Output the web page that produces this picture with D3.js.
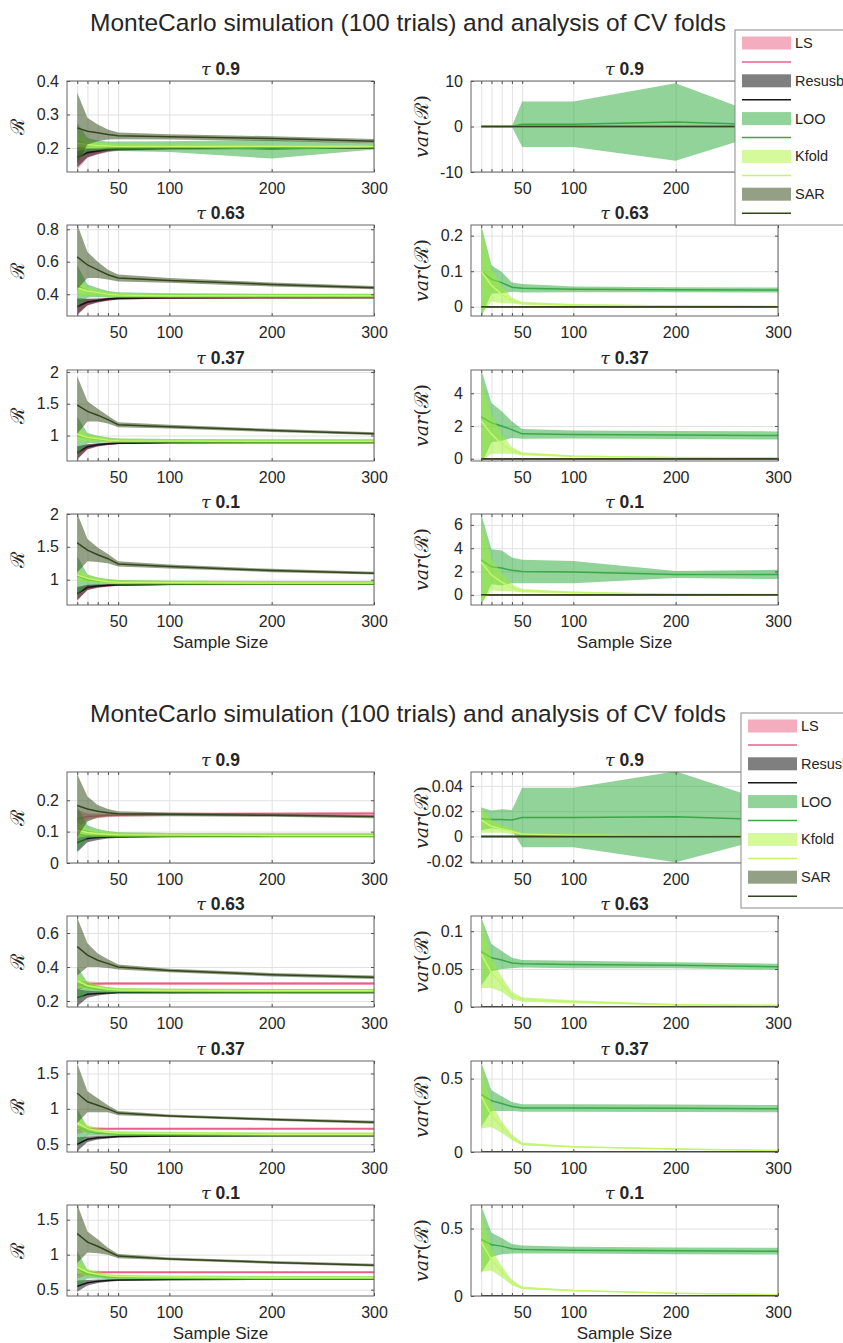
<!DOCTYPE html>
<html>
<head>
<meta charset="utf-8">
<script src="https://cdn.jsdelivr.net/npm/d3@7"></script>
<style>
  body { margin: 0; background: #fff; }
  svg text { fill: #262626; }
</style>
</head>
<body>
<svg id="chart" width="843" height="1343" font-family="'Liberation Sans', Arial, Helvetica, sans-serif"></svg>
<script>
// ---- data ----
const sampleSizes = [10, 20, 30, 40, 50, 100, 200, 300];
const xTickLabels = [50, 100, 200, 300];
const seriesNames = ["LS", "Resusbstitution", "LOO", "Kfold", "SAR"];
const tauLabels = ["0.9", "0.63", "0.37", "0.1"];
const figTitle = "MonteCarlo simulation (100 trials) and analysis of CV folds";

// series order in every table: LS, Resub, LOO, Kfold, SAR

// figure 1, left column (R)
const f1_R09_ticks = [0.2, 0.3, 0.4];
const f1_R09_mean = [
  [0.170, 0.185, 0.190, 0.194, 0.196, 0.198, 0.199, 0.200],
  [0.172, 0.186, 0.191, 0.195, 0.197, 0.199, 0.200, 0.200],
  [0.220, 0.210, 0.207, 0.206, 0.205, 0.204, 0.196, 0.204],
  [0.215, 0.210, 0.207, 0.206, 0.205, 0.204, 0.204, 0.204],
  [0.260, 0.250, 0.245, 0.240, 0.236, 0.233, 0.228, 0.220]];
const f1_R09_sd = [
  [0.035, 0.015, 0.010, 0.007, 0.005, 0.004, 0.003, 0.003],
  [0.030, 0.014, 0.009, 0.006, 0.005, 0.003, 0.003, 0.003],
  [0.055, 0.020, 0.015, 0.013, 0.014, 0.016, 0.028, 0.009],
  [0.025, 0.013, 0.010, 0.008, 0.007, 0.006, 0.005, 0.005],
  [0.105, 0.040, 0.025, 0.015, 0.010, 0.008, 0.007, 0.007]];

const f1_R063_ticks = [0.4, 0.6, 0.8];
const f1_R063_mean = [
  [0.320, 0.350, 0.360, 0.368, 0.373, 0.377, 0.379, 0.380],
  [0.325, 0.352, 0.362, 0.370, 0.375, 0.378, 0.380, 0.380],
  [0.450, 0.420, 0.410, 0.400, 0.395, 0.392, 0.390, 0.390],
  [0.440, 0.420, 0.410, 0.400, 0.395, 0.391, 0.390, 0.390],
  [0.630, 0.580, 0.550, 0.520, 0.500, 0.485, 0.460, 0.440]];
const f1_R063_sd = [
  [0.050, 0.020, 0.012, 0.009, 0.007, 0.005, 0.004, 0.004],
  [0.050, 0.020, 0.012, 0.009, 0.007, 0.005, 0.004, 0.004],
  [0.130, 0.040, 0.028, 0.020, 0.017, 0.014, 0.013, 0.013],
  [0.050, 0.025, 0.018, 0.015, 0.014, 0.013, 0.012, 0.012],
  [0.200, 0.080, 0.050, 0.030, 0.022, 0.015, 0.012, 0.010]];

const f1_R037_ticks = [1, 1.5, 2];
const f1_R037_mean = [
  [0.720, 0.820, 0.850, 0.868, 0.878, 0.888, 0.890, 0.890],
  [0.730, 0.825, 0.855, 0.870, 0.880, 0.890, 0.892, 0.892],
  [1.000, 0.960, 0.940, 0.930, 0.920, 0.915, 0.910, 0.910],
  [1.020, 0.970, 0.950, 0.930, 0.920, 0.915, 0.910, 0.910],
  [1.480, 1.380, 1.320, 1.250, 1.170, 1.140, 1.080, 1.030]];
const f1_R037_sd = [
  [0.100, 0.040, 0.025, 0.018, 0.014, 0.010, 0.008, 0.008],
  [0.100, 0.040, 0.025, 0.018, 0.014, 0.010, 0.008, 0.008],
  [0.300, 0.080, 0.055, 0.040, 0.035, 0.030, 0.030, 0.030],
  [0.100, 0.050, 0.038, 0.032, 0.030, 0.028, 0.028, 0.028],
  [0.450, 0.160, 0.100, 0.060, 0.040, 0.030, 0.025, 0.020]];

const f1_R01_ticks = [1, 1.5, 2];
const f1_R01_mean = [
  [0.780, 0.880, 0.900, 0.910, 0.920, 0.928, 0.930, 0.930],
  [0.790, 0.885, 0.905, 0.915, 0.922, 0.930, 0.932, 0.932],
  [1.060, 1.000, 0.980, 0.970, 0.960, 0.955, 0.950, 0.950],
  [1.070, 1.020, 0.990, 0.970, 0.960, 0.955, 0.950, 0.950],
  [1.560, 1.450, 1.380, 1.320, 1.240, 1.200, 1.140, 1.100]];
const f1_R01_sd = [
  [0.100, 0.040, 0.025, 0.018, 0.014, 0.010, 0.008, 0.008],
  [0.100, 0.040, 0.025, 0.018, 0.014, 0.010, 0.008, 0.008],
  [0.300, 0.080, 0.055, 0.040, 0.035, 0.030, 0.030, 0.030],
  [0.100, 0.050, 0.038, 0.032, 0.030, 0.028, 0.028, 0.028],
  [0.450, 0.170, 0.110, 0.070, 0.040, 0.030, 0.025, 0.020]];

// figure 1, right column (var R)
const f1_V09_ticks = [-10, 0, 10];
const f1_V09_mean = [
  [0, 0, 0, 0, 0, 0, 0, 0],
  [0, 0, 0, 0, 0, 0, 0, 0],
  [0.02, 0.02, 0.02, 0.02, 0.5, 0.5, 1.0, 0.3],
  [0.01, 0.01, 0.01, 0.01, 0.01, 0.01, 0.01, 0.01],
  [0, 0, 0, 0, 0, 0, 0, 0]];
const f1_V09_sd = [
  [0, 0, 0, 0, 0, 0, 0, 0],
  [0, 0, 0, 0, 0, 0, 0, 0],
  [0.05, 0.05, 0.05, 0.05, 5.0, 5.0, 8.5, 0.8],
  [0.02, 0.02, 0.02, 0.02, 0.02, 0.02, 0.02, 0.02],
  [0, 0, 0, 0, 0, 0, 0, 0]];

const f1_V063_ticks = [0, 0.1, 0.2];
const f1_V063_mean = [
  [0, 0, 0, 0, 0, 0, 0, 0],
  [0, 0, 0, 0, 0, 0, 0, 0],
  [0.100, 0.077, 0.068, 0.055, 0.052, 0.049, 0.048, 0.047],
  [0.100, 0.060, 0.035, 0.017, 0.010, 0.005, 0.002, 0.001],
  [0, 0, 0, 0, 0, 0, 0, 0]];
const f1_V063_sd = [
  [0, 0, 0, 0, 0, 0, 0, 0],
  [0, 0, 0, 0, 0, 0, 0, 0],
  [0.130, 0.040, 0.030, 0.013, 0.012, 0.008, 0.007, 0.007],
  [0.120, 0.045, 0.025, 0.008, 0.004, 0.003, 0.002, 0.001],
  [0, 0, 0, 0, 0, 0, 0, 0]];

const f1_V037_ticks = [0, 2, 4];
const f1_V037_mean = [
  [0, 0, 0, 0, 0, 0, 0, 0],
  [0, 0, 0, 0, 0, 0, 0, 0],
  [2.55, 2.20, 2.00, 1.77, 1.52, 1.48, 1.45, 1.42],
  [2.30, 1.50, 0.90, 0.50, 0.30, 0.15, 0.08, 0.05],
  [0, 0, 0, 0, 0, 0, 0, 0]];
const f1_V037_sd = [
  [0, 0, 0, 0, 0, 0, 0, 0],
  [0, 0, 0, 0, 0, 0, 0, 0],
  [2.90, 1.20, 0.90, 0.50, 0.30, 0.25, 0.25, 0.25],
  [2.40, 1.20, 0.60, 0.20, 0.10, 0.05, 0.03, 0.03],
  [0, 0, 0, 0, 0, 0, 0, 0]];

const f1_V01_ticks = [0, 2, 4, 6];
const f1_V01_mean = [
  [0, 0, 0, 0, 0, 0, 0, 0],
  [0, 0, 0, 0, 0, 0, 0, 0],
  [3.00, 2.40, 2.30, 2.10, 2.00, 1.95, 1.75, 1.75],
  [2.80, 1.70, 1.10, 0.60, 0.35, 0.20, 0.05, 0.03],
  [0, 0, 0, 0, 0, 0, 0, 0]];
const f1_V01_sd = [
  [0, 0, 0, 0, 0, 0, 0, 0],
  [0, 0, 0, 0, 0, 0, 0, 0],
  [3.90, 1.50, 1.50, 1.10, 1.00, 0.95, 0.30, 0.40],
  [3.50, 1.30, 0.80, 0.30, 0.15, 0.08, 0.03, 0.02],
  [0, 0, 0, 0, 0, 0, 0, 0]];

// figure 2, left column (R)
const f2_R09_ticks = [0, 0.1, 0.2];
const f2_R09_mean = [
  [0.140, 0.148, 0.150, 0.152, 0.153, 0.155, 0.157, 0.158],
  [0.065, 0.078, 0.081, 0.083, 0.084, 0.085, 0.086, 0.086],
  [0.110, 0.100, 0.095, 0.092, 0.090, 0.089, 0.088, 0.088],
  [0.105, 0.097, 0.094, 0.092, 0.090, 0.089, 0.088, 0.088],
  [0.183, 0.172, 0.165, 0.160, 0.157, 0.155, 0.152, 0.148]];
const f2_R09_sd = [
  [0.030, 0.010, 0.007, 0.006, 0.006, 0.005, 0.005, 0.005],
  [0.030, 0.012, 0.008, 0.005, 0.004, 0.003, 0.003, 0.003],
  [0.070, 0.020, 0.013, 0.010, 0.008, 0.007, 0.007, 0.007],
  [0.025, 0.012, 0.010, 0.008, 0.007, 0.007, 0.007, 0.007],
  [0.100, 0.040, 0.020, 0.012, 0.008, 0.006, 0.005, 0.005]];

const f2_R063_ticks = [0.2, 0.4, 0.6];
const f2_R063_mean = [
  [0.290, 0.300, 0.302, 0.303, 0.303, 0.303, 0.303, 0.303],
  [0.220, 0.240, 0.245, 0.248, 0.250, 0.250, 0.250, 0.250],
  [0.300, 0.280, 0.270, 0.265, 0.262, 0.260, 0.260, 0.260],
  [0.320, 0.290, 0.280, 0.270, 0.265, 0.262, 0.260, 0.260],
  [0.520, 0.470, 0.440, 0.420, 0.400, 0.380, 0.355, 0.340]];
const f2_R063_sd = [
  [0.030, 0.015, 0.010, 0.009, 0.009, 0.009, 0.009, 0.009],
  [0.050, 0.020, 0.012, 0.008, 0.006, 0.005, 0.004, 0.004],
  [0.100, 0.030, 0.020, 0.016, 0.013, 0.012, 0.011, 0.011],
  [0.040, 0.020, 0.016, 0.013, 0.012, 0.011, 0.011, 0.011],
  [0.170, 0.070, 0.040, 0.025, 0.015, 0.010, 0.010, 0.010]];

const f2_R037_ticks = [0.5, 1, 1.5];
const f2_R037_mean = [
  [0.700, 0.720, 0.720, 0.720, 0.720, 0.720, 0.720, 0.720],
  [0.500, 0.570, 0.590, 0.600, 0.610, 0.615, 0.620, 0.620],
  [0.750, 0.680, 0.660, 0.650, 0.645, 0.640, 0.635, 0.635],
  [0.800, 0.720, 0.690, 0.670, 0.660, 0.650, 0.640, 0.640],
  [1.220, 1.100, 1.050, 1.000, 0.940, 0.900, 0.850, 0.810]];
const f2_R037_sd = [
  [0.060, 0.030, 0.020, 0.018, 0.018, 0.018, 0.018, 0.018],
  [0.100, 0.040, 0.025, 0.018, 0.014, 0.010, 0.010, 0.010],
  [0.250, 0.060, 0.040, 0.030, 0.028, 0.026, 0.026, 0.026],
  [0.100, 0.050, 0.035, 0.028, 0.026, 0.026, 0.026, 0.026],
  [0.420, 0.150, 0.100, 0.050, 0.030, 0.020, 0.020, 0.020]];

const f2_R01_ticks = [0.5, 1, 1.5];
const f2_R01_mean = [
  [0.720, 0.740, 0.750, 0.750, 0.750, 0.750, 0.750, 0.750],
  [0.550, 0.600, 0.620, 0.630, 0.640, 0.645, 0.650, 0.650],
  [0.800, 0.720, 0.700, 0.680, 0.675, 0.670, 0.665, 0.665],
  [0.820, 0.750, 0.720, 0.700, 0.690, 0.680, 0.670, 0.670],
  [1.300, 1.180, 1.120, 1.050, 0.980, 0.940, 0.890, 0.850]];
const f2_R01_sd = [
  [0.060, 0.030, 0.020, 0.018, 0.018, 0.018, 0.018, 0.018],
  [0.080, 0.040, 0.025, 0.018, 0.014, 0.010, 0.010, 0.010],
  [0.250, 0.060, 0.040, 0.030, 0.028, 0.026, 0.026, 0.026],
  [0.100, 0.050, 0.035, 0.028, 0.026, 0.026, 0.026, 0.026],
  [0.420, 0.150, 0.100, 0.050, 0.030, 0.020, 0.020, 0.020]];

// figure 2, right column (var R)
const f2_V09_ticks = [-0.02, 0, 0.02, 0.04];
const f2_V09_mean = [
  [0, 0, 0, 0, 0, 0, 0, 0],
  [0, 0, 0, 0, 0, 0, 0, 0],
  [0.0140, 0.0135, 0.0135, 0.0130, 0.0150, 0.0150, 0.0155, 0.0130],
  [0.0130, 0.0080, 0.0060, 0.0040, 0.0020, 0.0010, 0.0005, 0.0003],
  [0, 0, 0, 0, 0, 0, 0, 0]];
const f2_V09_sd = [
  [0, 0, 0, 0, 0, 0, 0, 0],
  [0, 0, 0, 0, 0, 0, 0, 0],
  [0.0090, 0.0070, 0.0080, 0.0080, 0.0235, 0.0235, 0.0360, 0.0120],
  [0.0100, 0.0050, 0.0030, 0.0020, 0.0010, 0.0010, 0.0005, 0.0003],
  [0, 0, 0, 0, 0, 0, 0, 0]];

const f2_V063_ticks = [0, 0.05, 0.1];
const f2_V063_mean = [
  [0, 0, 0, 0, 0, 0, 0, 0],
  [0, 0, 0, 0, 0, 0, 0, 0],
  [0.073, 0.065, 0.062, 0.058, 0.057, 0.056, 0.055, 0.053],
  [0.070, 0.045, 0.030, 0.015, 0.010, 0.007, 0.003, 0.002],
  [0, 0, 0, 0, 0, 0, 0, 0]];
const f2_V063_sd = [
  [0, 0, 0, 0, 0, 0, 0, 0],
  [0, 0, 0, 0, 0, 0, 0, 0],
  [0.045, 0.018, 0.012, 0.007, 0.005, 0.005, 0.004, 0.004],
  [0.045, 0.020, 0.010, 0.005, 0.003, 0.002, 0.001, 0.001],
  [0, 0, 0, 0, 0, 0, 0, 0]];

const f2_V037_ticks = [0, 0.5];
const f2_V037_mean = [
  [0, 0, 0, 0, 0, 0, 0, 0],
  [0, 0, 0, 0, 0, 0, 0, 0],
  [0.390, 0.350, 0.330, 0.310, 0.300, 0.300, 0.298, 0.295],
  [0.380, 0.250, 0.170, 0.100, 0.055, 0.035, 0.020, 0.010],
  [0, 0, 0, 0, 0, 0, 0, 0]];
const f2_V037_sd = [
  [0, 0, 0, 0, 0, 0, 0, 0],
  [0, 0, 0, 0, 0, 0, 0, 0],
  [0.220, 0.070, 0.050, 0.030, 0.025, 0.025, 0.025, 0.025],
  [0.220, 0.080, 0.040, 0.020, 0.010, 0.005, 0.004, 0.003],
  [0, 0, 0, 0, 0, 0, 0, 0]];

const f2_V01_ticks = [0, 0.5];
const f2_V01_mean = [
  [0, 0, 0, 0, 0, 0, 0, 0],
  [0, 0, 0, 0, 0, 0, 0, 0],
  [0.420, 0.380, 0.370, 0.350, 0.345, 0.340, 0.335, 0.332],
  [0.400, 0.270, 0.180, 0.100, 0.060, 0.040, 0.020, 0.010],
  [0, 0, 0, 0, 0, 0, 0, 0]];
const f2_V01_sd = [
  [0, 0, 0, 0, 0, 0, 0, 0],
  [0, 0, 0, 0, 0, 0, 0, 0],
  [0.250, 0.090, 0.060, 0.035, 0.030, 0.025, 0.025, 0.025],
  [0.220, 0.080, 0.040, 0.020, 0.010, 0.005, 0.004, 0.003],
  [0, 0, 0, 0, 0, 0, 0, 0]];

// ---- styles ----
const bandColors = ["#ea5a80", "#000000", "#23a733", "#9cf02c", "#3c5220"];
const bandAlpha = [0.5, 0.5, 0.5, 0.5, 0.55];
const lineColors = ["#e8608a", "#151515", "#3aa848", "#c5f56a", "#34451f"];
const serif = "'DejaVu Serif', 'Liberation Serif', serif";

// ---- layout ----
const svg = d3.select("#chart");
const figOffsets = [0, 691];
const colRanges = [[67, 374], [471, 778]];
const rowTops = [81, 225, 370, 514];
const plotH = 91;
const axisColor = "#555";

const panels = [
  { fig: 0, row: 0, col: 0, ylim: [0.128, 0.4], ticks: f1_R09_ticks, mean: f1_R09_mean, sd: f1_R09_sd },
  { fig: 0, row: 1, col: 0, ylim: [0.266, 0.826], ticks: f1_R063_ticks, mean: f1_R063_mean, sd: f1_R063_sd },
  { fig: 0, row: 2, col: 0, ylim: [0.6, 2.03], ticks: f1_R037_ticks, mean: f1_R037_mean, sd: f1_R037_sd },
  { fig: 0, row: 3, col: 0, ylim: [0.615, 2.0], ticks: f1_R01_ticks, mean: f1_R01_mean, sd: f1_R01_sd },
  { fig: 0, row: 0, col: 1, ylim: [-10, 10], ticks: f1_V09_ticks, mean: f1_V09_mean, sd: f1_V09_sd },
  { fig: 0, row: 1, col: 1, ylim: [-0.026, 0.23], ticks: f1_V063_ticks, mean: f1_V063_mean, sd: f1_V063_sd },
  { fig: 0, row: 2, col: 1, ylim: [-0.14, 5.42], ticks: f1_V037_ticks, mean: f1_V037_mean, sd: f1_V037_sd },
  { fig: 0, row: 3, col: 1, ylim: [-0.87, 6.93], ticks: f1_V01_ticks, mean: f1_V01_mean, sd: f1_V01_sd },
  { fig: 1, row: 0, col: 0, ylim: [0, 0.29], ticks: f2_R09_ticks, mean: f2_R09_mean, sd: f2_R09_sd },
  { fig: 1, row: 1, col: 0, ylim: [0.165, 0.70], ticks: f2_R063_ticks, mean: f2_R063_mean, sd: f2_R063_sd },
  { fig: 1, row: 2, col: 0, ylim: [0.39, 1.676], ticks: f2_R037_ticks, mean: f2_R037_mean, sd: f2_R037_sd },
  { fig: 1, row: 3, col: 0, ylim: [0.41, 1.71], ticks: f2_R01_ticks, mean: f2_R01_mean, sd: f2_R01_sd },
  { fig: 1, row: 0, col: 1, ylim: [-0.021, 0.051], ticks: f2_V09_ticks, mean: f2_V09_mean, sd: f2_V09_sd },
  { fig: 1, row: 1, col: 1, ylim: [0, 0.12], ticks: f2_V063_ticks, mean: f2_V063_mean, sd: f2_V063_sd },
  { fig: 1, row: 2, col: 1, ylim: [0, 0.62], ticks: f2_V037_ticks, mean: f2_V037_mean, sd: f2_V037_sd },
  { fig: 1, row: 3, col: 1, ylim: [0, 0.675], ticks: f2_V01_ticks, mean: f2_V01_mean, sd: f2_V01_sd }
];

// figure titles
figOffsets.forEach(off => {
  svg.append("text")
    .attr("x", 408)
    .attr("y", off + 31)
    .attr("text-anchor", "middle")
    .attr("font-size", 24.5)
    .text(figTitle);
});

panels.forEach((p, i) => drawPanel(p, i));

drawLegend(735, 30);
drawLegend(741, 713);


function drawPanel(p, idx) {
  const top = figOffsets[p.fig] + rowTops[p.row];
  const bottom = top + plotH;
  const [x0, x1] = colRanges[p.col];

  const x = d3.scaleLinear().domain([0, 300]).range([x0, x1]);
  const y = d3.scaleLinear().domain(p.ylim).range([bottom, top]);

  const g = svg.append("g").attr("class", "panel");

  // gridlines
  g.append("g")
    .attr("transform", "translate(0," + bottom + ")")
    .call(d3.axisBottom(x).tickValues(sampleSizes).tickSize(-plotH).tickFormat(""))
    .call(a => a.select(".domain").remove())
    .selectAll("line").attr("stroke", "#e2e2e2");
  g.append("g")
    .attr("transform", "translate(" + x0 + ",0)")
    .call(d3.axisLeft(y).tickValues(p.ticks).tickSize(-(x1 - x0)).tickFormat(""))
    .call(a => a.select(".domain").remove())
    .selectAll("line").attr("stroke", "#e2e2e2");

  // bands and mean lines, clipped to the axes box
  const clipId = "clip" + idx;
  g.append("clipPath").attr("id", clipId)
    .append("rect")
    .attr("x", x0).attr("y", top)
    .attr("width", x1 - x0).attr("height", plotH);

  const plot = g.append("g").attr("clip-path", "url(#" + clipId + ")");

  const area = d3.area()
    .x(d => x(d.n))
    .y0(d => y(d.m - d.s))
    .y1(d => y(d.m + d.s));
  const line = d3.line()
    .x(d => x(d.n))
    .y(d => y(d.m));

  seriesNames.forEach((name, s) => {
    const pts = sampleSizes.map((n, k) => ({ n: n, m: p.mean[s][k], s: p.sd[s][k] }));
    plot.append("path")
      .datum(pts)
      .attr("d", area)
      .attr("fill", bandColors[s])
      .attr("fill-opacity", bandAlpha[s]);
    plot.append("path")
      .datum(pts)
      .attr("d", line)
      .attr("fill", "none")
      .attr("stroke", lineColors[s])
      .attr("stroke-width", 1.5);
  });

  // axes, MATLAB style: ticks inside on all four sides
  const styleAxis = a => {
    a.select(".domain").remove();
    a.attr("color", axisColor)
      .attr("font-size", 16)
      .attr("font-family", "'Liberation Sans', Arial, sans-serif");
    a.selectAll("text").style("fill", "#262626");
  };

  g.append("g")
    .attr("transform", "translate(0," + bottom + ")")
    .call(d3.axisBottom(x).tickValues(sampleSizes).tickSizeInner(-3).tickSizeOuter(0).tickPadding(11)
      .tickFormat(d => xTickLabels.includes(d) ? d : ""))
    .call(styleAxis);
  g.append("g")
    .attr("transform", "translate(0," + top + ")")
    .call(d3.axisTop(x).tickValues(sampleSizes).tickSizeInner(-3).tickSizeOuter(0).tickFormat(""))
    .call(styleAxis);
  g.append("g")
    .attr("transform", "translate(" + x0 + ",0)")
    .call(d3.axisLeft(y).tickValues(p.ticks).tickSizeInner(-3).tickSizeOuter(0).tickPadding(8)
      .tickFormat(d => String(d)))
    .call(styleAxis);
  g.append("g")
    .attr("transform", "translate(" + x1 + ",0)")
    .call(d3.axisRight(y).tickValues(p.ticks).tickSizeInner(-3).tickSizeOuter(0).tickFormat(""))
    .call(styleAxis);

  g.append("rect")
    .attr("x", x0).attr("y", top)
    .attr("width", x1 - x0).attr("height", plotH)
    .attr("fill", "none")
    .attr("stroke", axisColor)
    .attr("stroke-width", 0.9);

  // panel title: tau + value
  const t = g.append("text")
    .attr("x", (x0 + x1) / 2)
    .attr("y", top - 6)
    .attr("text-anchor", "middle")
    .attr("font-size", 17.5);
  t.append("tspan")
    .attr("font-family", serif)
    .attr("font-style", "italic")
    .text("τ");
  t.append("tspan")
    .attr("font-weight", "bold")
    .text(" " + tauLabels[p.row]);

  // y label
  const yl = g.append("text")
    .attr("transform", "translate(" + (p.col === 0 ? 24 : 428) + "," + (top + plotH / 2) + ") rotate(-90)")
    .attr("text-anchor", "middle")
    .attr("font-size", 19)
    .attr("font-family", serif);
  if (p.col === 0) {
    yl.text("ℛ");
  } else {
    yl.append("tspan").attr("font-style", "italic").text("var");
    yl.append("tspan").text("(ℛ)");
  }

  // x label on last row
  if (p.row === 3) {
    g.append("text")
      .attr("x", (x0 + x1) / 2)
      .attr("y", bottom + 42.5)
      .attr("text-anchor", "middle")
      .attr("font-size", 17)
      .text("Sample Size");
  }
}


function drawLegend(left, top) {
  const lg = svg.append("g").attr("class", "legend");
  lg.append("rect")
    .attr("x", left).attr("y", top)
    .attr("width", 130).attr("height", 195)
    .attr("fill", "#fff")
    .attr("stroke", "#8a8a8a")
    .attr("stroke-width", 1);

  seriesNames.forEach((name, s) => {
    const cy = top + 13 + s * 37.8;
    lg.append("rect")
      .attr("x", left + 7).attr("y", cy - 6.5)
      .attr("width", 49).attr("height", 13)
      .attr("fill", s === 3 ? "#aaf53a" : bandColors[s])
      .attr("fill-opacity", bandAlpha[s]);
    lg.append("line")
      .attr("x1", left + 7).attr("x2", left + 56)
      .attr("y1", cy + 19).attr("y2", cy + 19)
      .attr("stroke", lineColors[s])
      .attr("stroke-width", 1.5);
    lg.append("text")
      .attr("x", left + 60)
      .attr("y", cy + 5)
      .attr("font-size", 14.5)
      .text(name);
  });
}
</script>
</body>
</html>
